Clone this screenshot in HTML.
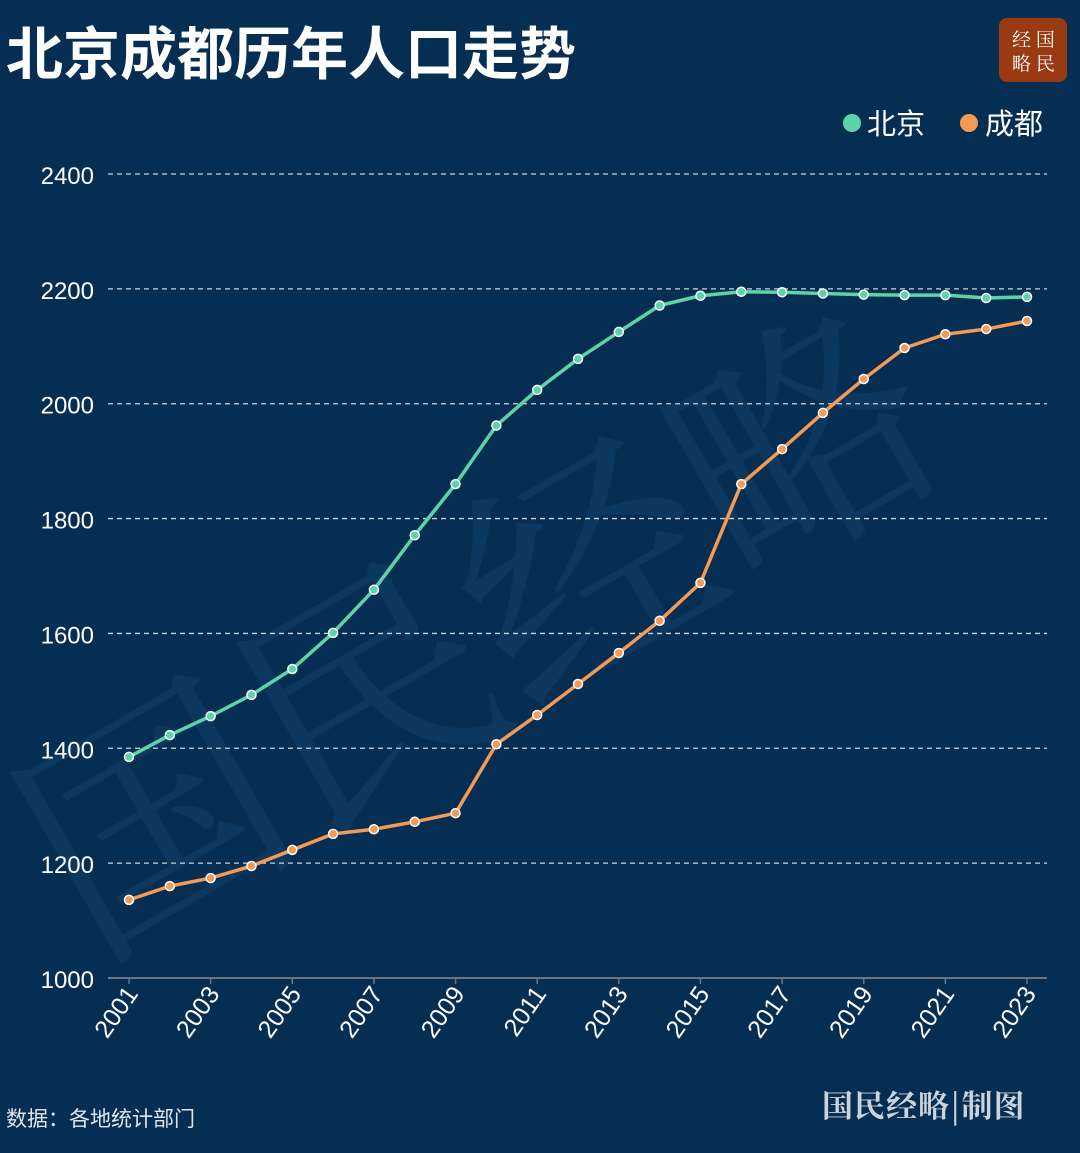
<!DOCTYPE html>
<html><head><meta charset="utf-8"><style>
html,body{margin:0;padding:0;background:#062e52;}
body{width:1080px;height:1148px;overflow:hidden;font-family:"Liberation Sans","Noto Sans CJK SC",sans-serif;}
</style></head><body>
<svg id="s" width="1080" height="1148" xmlns="http://www.w3.org/2000/svg" font-family="Liberation Sans, Noto Sans CJK SC, sans-serif">
<rect width="1080" height="1148" fill="#062e52"/>
<text x="90" y="960" font-size="250" fill="#0c3860" font-family="Noto Serif CJK SC, serif" transform="rotate(-30 90 960)">国民经略</text>
<text x="6" y="74" font-size="57" font-weight="bold" fill="#ffffff" font-family="Noto Sans CJK SC, sans-serif">北京成都历年人口走势</text>
<rect x="999" y="18" width="68" height="64" rx="8" fill="#9a3a12"/>
<text x="1012" y="46" font-size="19" fill="#fff" font-family="Noto Serif CJK SC, serif">经 国</text>
<text x="1012" y="70" font-size="19" fill="#fff" font-family="Noto Serif CJK SC, serif">略 民</text>
<circle cx="852" cy="123" r="9" fill="#5dd3a8"/>
<text x="867" y="134" font-size="29" fill="#fff" font-family="Noto Sans CJK SC, sans-serif">北京</text>
<circle cx="969" cy="123" r="9" fill="#f59a55"/>
<text x="985" y="134" font-size="29" fill="#fff" font-family="Noto Sans CJK SC, sans-serif">成都</text>
<g id="g"></g>
<text x="6" y="1126" font-size="21" fill="#dfe6ee" font-family="Noto Sans CJK SC, sans-serif">数据：各地统计部门</text>
<text x="822" y="1117" font-size="31" font-weight="bold" fill="#c9d4de" font-family="Noto Serif CJK SC, serif" letter-spacing="1">国民经略|制图</text>
</svg>
<script>
var g=document.getElementById('g'),h='';
function Y(v){return 978-(v-1000)*804/1400;}
function X(i){return 129+i*898/22;}
for(var v=1000;v<=2400;v+=200){var y=Y(v);
 if(v>1000)h+='<line x1="108" x2="1047" y1="'+y+'" y2="'+y+'" stroke="#c8d3de" stroke-width="1.3" stroke-dasharray="5,4"/>';
 h+='<text x="94" y="'+(y+10)+'" font-size="24" fill="#fff" text-anchor="end">'+v+'</text>';}
h+='<line x1="108" x2="1047" y1="978" y2="978" stroke="#6a7580" stroke-width="2"/>';
for(var i=0;i<23;i+=2){var x=X(i);
 h+='<line x1="'+x+'" x2="'+x+'" y1="978" y2="984" stroke="#6a7580" stroke-width="1.5"/>';
 h+='<text transform="translate('+(x+10)+',994) rotate(-55)" font-size="25" fill="#fff" text-anchor="end">'+(2001+i)+'</text>';}
var bj=[1385,1423,1456,1493,1538,1601,1676,1771,1860,1962,2024,2078,2125,2171,2188,2195,2194,2192,2190,2189,2189,2184,2186];
var cd=[1136,1160,1174,1195,1223,1251,1259,1272,1287,1407,1458,1512,1566,1622,1688,1860,1921,1984,2043,2097,2121,2130,2144];
function line(d,c){var p=d.map(function(v,i){return X(i)+','+Y(v)}).join(' ');
 h+='<polyline points="'+p+'" fill="none" stroke="'+c+'" stroke-width="3.5" stroke-linejoin="round"/>';
 d.forEach(function(v,i){h+='<circle cx="'+X(i)+'" cy="'+Y(v)+'" r="4.5" fill="'+c+'" stroke="#fff" stroke-width="1.5"/>';});}
line(bj,'#5dd3a8');line(cd,'#f59a55');
g.innerHTML=h;
</script>
</body></html>
